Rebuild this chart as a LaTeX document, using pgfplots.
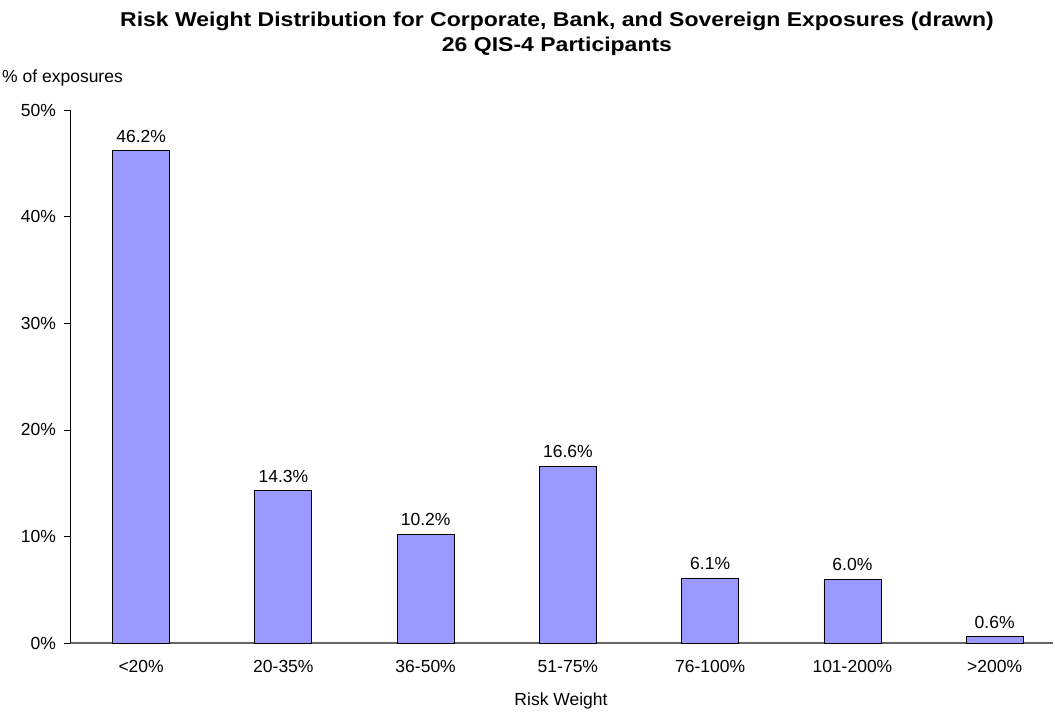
\documentclass[border=0pt]{standalone}
\usepackage{fontspec}
\setmainfont{Liberation Sans}
\newfontfamily\titlefont[FakeStretch=1.15]{Liberation Sans}
\usepackage{pgfplots}
\pgfplotsset{compat=1.18}
\definecolor{barblue}{HTML}{9999FF}
\begin{document}
\fontsize{17.5}{20}\selectfont
\begin{tikzpicture}[x=1pt,y=1pt]
\useasboundingbox (0,0) rectangle (1055,713);
\begin{axis}[
  at={(70pt,70pt)}, anchor=south west,
  scale only axis, width=983pt, height=533pt,
  xmin=-0.5, xmax=6.41, ymin=0, ymax=50,
  axis lines*=left,
  x axis line style={draw=gray!80!black, line width=1.2pt, -},
  y axis line style={draw=black, line width=0.8pt, -},
  xtick={0,...,6},
  xticklabels={<20\%,20-35\%,36-50\%,51-75\%,76-100\%,101-200\%,>200\%},
  extra x ticks={0.5,1.5,2.5,3.5,4.5,5.5},
  extra x tick labels={},
  extra x tick style={major tick length=6pt, tick style={draw=black, line width=0.6pt}, tick pos=left},
  x tick style={draw=none},
  ytick={0,10,20,30,40,50},
  yticklabel={\pgfmathprintnumber{\tick}\%},
  y tick style={draw=black, line width=0.6pt},
  tick align=outside, major tick length=6pt,
  /pgf/number format/assume math mode=true,
  tick label style={font=\fontsize{17.5}{20}\selectfont},
  xticklabel style={yshift=-5pt},
  yticklabel style={xshift=-2pt},
  ybar, bar width=57pt,
  nodes near coords={\pgfmathprintnumber[fixed,fixed zerofill,precision=1]{\pgfplotspointmeta}\%},
  nodes near coords style={font=\fontsize{17.5}{20}\selectfont, yshift=2pt},
  clip=false,
]
\addplot[fill=barblue, draw=black, line width=0.8pt] coordinates {
  (0,46.2) (1,14.3) (2,10.2) (3,16.6) (4,6.1) (5,6.0) (6,0.6)};
\end{axis}
\node[font=\titlefont\fontsize{20}{23}\selectfont\bfseries] at (557,692) {Risk Weight Distribution for Corporate, Bank, and Sovereign Exposures (drawn)};
\node[font=\titlefont\fontsize{20}{23}\selectfont\bfseries] at (557,667) {26 QIS-4 Participants};
\node[anchor=west, inner sep=0pt] at (2,635) {\% of exposures};
\node[inner sep=0pt] at (561,12) {Risk Weight};
\end{tikzpicture}
\end{document}
